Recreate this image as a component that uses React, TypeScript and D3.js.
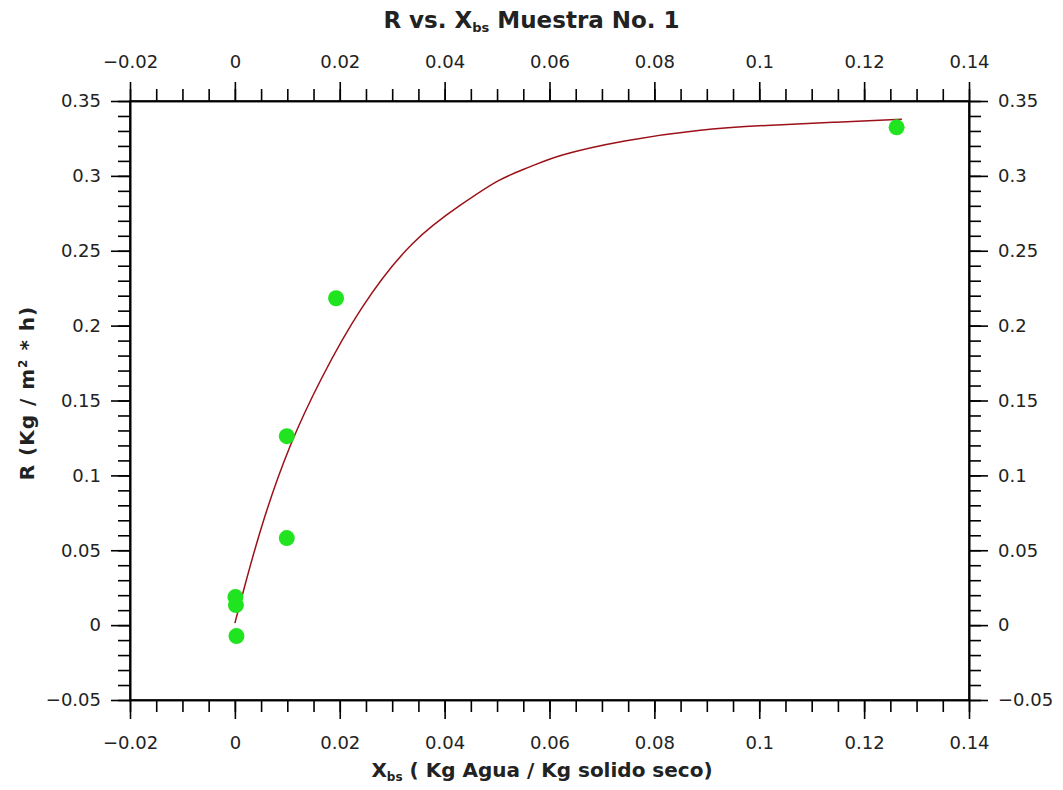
import React, { useEffect, useRef } from 'react';
import * as d3 from 'd3';

// measured points (Xbs, R)
const sampleX = [0.0001, 0.0002, 0.0003, 0.0099, 0.0099, 0.0193, 0.1262];
const sampleR = [0.0187, 0.0134, -0.0073, 0.1262, 0.0581, 0.2183, 0.3324];

// fitted curve
const fitX = [0, 0.0015, 0.0053, 0.0105, 0.0162, 0.0238, 0.0339, 0.0435, 0.0505, 0.0562, 0.0614, 0.074, 0.0887, 0.1014, 0.114, 0.1272];
const fitR = [0.0013, 0.0214, 0.0701, 0.1215, 0.1636, 0.2123, 0.2583, 0.2817, 0.2984, 0.3057, 0.3138, 0.3238, 0.3311, 0.3338, 0.3358, 0.3378];

const xDomain = [-0.02, 0.14];
const yDomain = [-0.05, 0.35];

const W = 1063;
const H = 790;
const FONT = 'DejaVu Sans, sans-serif';

const App = () => {
  const svgRef = useRef<SVGSVGElement>(null);

  useEffect(() => {
    document.body.style.margin = '0';
    drawChart();
  }, []);

  const drawChart = () => {
    const margin = { top: 101, right: 94, bottom: 90, left: 130 };
    const width = W - margin.left - margin.right;
    const height = H - margin.top - margin.bottom;

    const root = d3.select(svgRef.current);
    root.selectAll('*').remove();

    const svg = root.append('g').attr('transform', `translate(${margin.left},${margin.top})`);

    const xScale = d3.scaleLinear().domain(xDomain).range([0, width]);
    const yScale = d3.scaleLinear().domain(yDomain).range([height, 0]);

    const fmt = d3.format('~g');
    const xMinor = xScale.ticks(32);
    const yMinor = yScale.ticks(40);

    const styleAxis = (g) => {
      g.selectAll('path, line').attr('stroke', '#000').attr('stroke-width', 1.6);
      g.selectAll('text').attr('font-family', FONT).attr('font-size', 18).attr('fill', '#222');
    };

    // minor ticks
    const minor = [
      { axis: d3.axisBottom(xScale).tickValues(xMinor), t: `translate(0,${height})` },
      { axis: d3.axisTop(xScale).tickValues(xMinor), t: 'translate(0,0)' },
      { axis: d3.axisLeft(yScale).tickValues(yMinor), t: 'translate(0,0)' },
      { axis: d3.axisRight(yScale).tickValues(yMinor), t: `translate(${width},0)` },
    ];
    minor.forEach((m) => {
      const g = svg.append('g').attr('transform', m.t)
        .call(m.axis.tickSize(12).tickSizeOuter(0).tickFormat(() => ''));
      styleAxis(g);
    });

    // major ticks
    const gb = svg.append('g').attr('transform', `translate(0,${height})`)
      .call(d3.axisBottom(xScale).ticks(8).tickSize(19).tickSizeOuter(0).tickPadding(17).tickFormat(fmt));
    styleAxis(gb);
    const gt = svg.append('g')
      .call(d3.axisTop(xScale).ticks(8).tickSize(19).tickSizeOuter(0).tickPadding(14).tickFormat(fmt));
    styleAxis(gt);
    const gl = svg.append('g')
      .call(d3.axisLeft(yScale).ticks(8).tickSize(19).tickSizeOuter(0).tickPadding(10).tickFormat(fmt));
    styleAxis(gl);
    const gr = svg.append('g').attr('transform', `translate(${width},0)`)
      .call(d3.axisRight(yScale).ticks(8).tickSize(19).tickSizeOuter(0).tickPadding(10).tickFormat(fmt));
    styleAxis(gr);

    // frame
    svg.append('rect')
      .attr('width', width)
      .attr('height', height)
      .attr('fill', 'none')
      .attr('stroke', '#000')
      .attr('stroke-width', 1.6);

    // fit line
    const line = d3.line<number>()
      .x((d, i) => xScale(fitX[i]))
      .y((d, i) => yScale(fitR[i]))
      .curve(d3.curveBasis);

    svg.append('path')
      .datum(fitR)
      .attr('fill', 'none')
      .attr('stroke', '#9c1018')
      .attr('stroke-width', 1.5)
      .attr('d', line);

    // points
    svg.selectAll('.pt')
      .data(sampleX)
      .enter()
      .append('circle')
      .attr('class', 'pt')
      .attr('cx', (d) => xScale(d))
      .attr('cy', (d, i) => yScale(sampleR[i]))
      .attr('r', 8)
      .attr('fill', '#20e420');

    // titles
    const title = root.append('text')
      .attr('x', W / 2)
      .attr('y', 28)
      .attr('text-anchor', 'middle')
      .attr('font-family', FONT)
      .attr('font-weight', 'bold')
      .attr('font-size', 23)
      .attr('fill', '#222');
    title.append('tspan').text('R vs. X');
    title.append('tspan').attr('font-size', 13).attr('dy', 4).text('bs');
    title.append('tspan').attr('dy', -4).text(' Muestra No. 1');

    const xt = root.append('text')
      .attr('x', 542)
      .attr('y', 777)
      .attr('text-anchor', 'middle')
      .attr('font-family', FONT)
      .attr('font-weight', 'bold')
      .attr('font-size', 20)
      .attr('fill', '#222');
    xt.append('tspan').text('X');
    xt.append('tspan').attr('font-size', 12).attr('dy', 4).text('bs');
    xt.append('tspan').attr('dy', -4).text(' ( Kg Agua / Kg solido seco)');

    const yt = root.append('text')
      .attr('transform', 'translate(34,393) rotate(-90)')
      .attr('text-anchor', 'middle')
      .attr('font-family', FONT)
      .attr('font-weight', 'bold')
      .attr('font-size', 20)
      .attr('letter-spacing', 1)
      .attr('fill', '#222');
    yt.append('tspan').text('R (Kg / m');
    yt.append('tspan').attr('font-size', 12).attr('dy', -7).text('2');
    yt.append('tspan').attr('dy', 7).text(' * h)');
  };

  return (
    <div>
      <svg ref={svgRef} width={W} height={H} style={{ display: 'block', background: '#fff' }}></svg>
    </div>
  );
};

export default App;
